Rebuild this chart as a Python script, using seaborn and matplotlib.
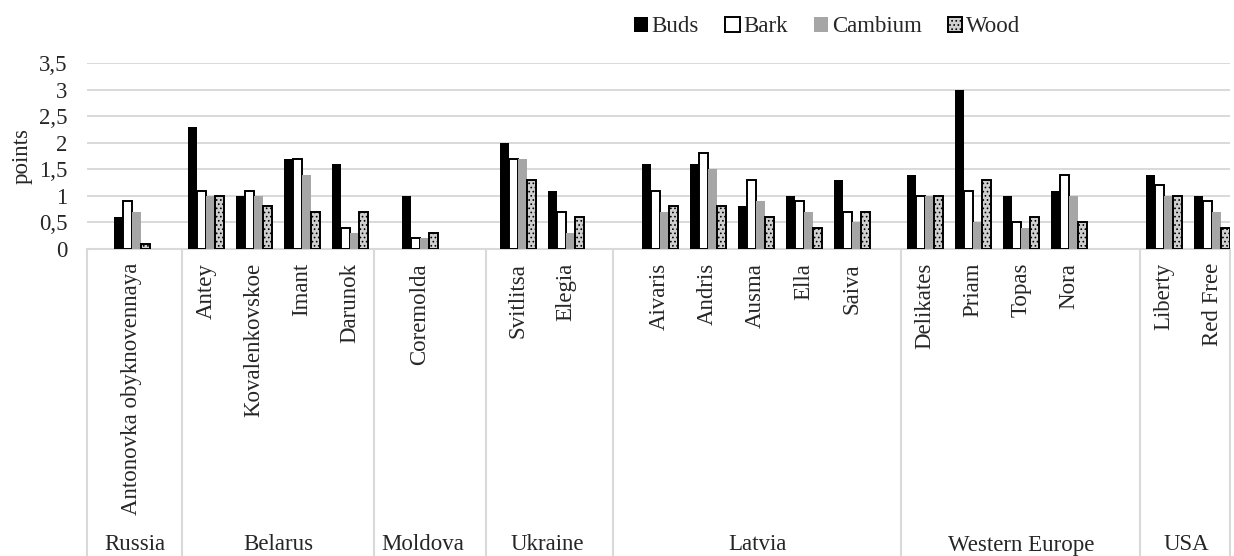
import matplotlib
matplotlib.use("Agg")
import matplotlib.pyplot as plt
import pandas as pd
import seaborn as sns
from matplotlib.patches import Patch
from matplotlib.transforms import blended_transform_factory

# ---- data -------------------------------------------------------------
varieties = ["Antonovka obyknovennaya",
             "Antey", "Kovalenkovskoe", "Imant", "Darunok",
             "Coremolda",
             "Svitlitsa", "Elegia",
             "Aivaris", "Andris", "Ausma", "Ella", "Saiva",
             "Delikates", "Priam", "Topas", "Nora",
             "Liberty", "Red Free"]
origin = ["Russia",
          "Belarus", "Belarus", "Belarus", "Belarus",
          "Moldova",
          "Ukraine", "Ukraine",
          "Latvia", "Latvia", "Latvia", "Latvia", "Latvia",
          "Western Europe", "Western Europe", "Western Europe", "Western Europe",
          "USA", "USA"]
buds    = [0.6, 2.3, 1.0, 1.7, 1.6, 1.0, 2.0, 1.1, 1.6, 1.6, 0.8, 1.0, 1.3, 1.4, 3.0, 1.0, 1.1, 1.4, 1.0]
bark    = [0.9, 1.1, 1.1, 1.7, 0.4, 0.2, 1.7, 0.7, 1.1, 1.8, 1.3, 0.9, 0.7, 1.0, 1.1, 0.5, 1.4, 1.2, 0.9]
cambium = [0.7, 1.0, 1.0, 1.4, 0.3, 0.2, 1.7, 0.3, 0.7, 1.5, 0.9, 0.7, 0.5, 1.0, 0.5, 0.4, 1.0, 1.0, 0.7]
wood    = [0.1, 1.0, 0.8, 0.7, 0.7, 0.3, 1.3, 0.6, 0.8, 0.8, 0.6, 0.4, 0.7, 1.0, 1.3, 0.6, 0.5, 1.0, 0.4]
parts = ["Buds", "Bark", "Cambium", "Wood"]
regions = ["Russia", "Belarus", "Moldova", "Ukraine", "Latvia", "Western Europe", "USA"]
y_ticks = [0, 0.5, 1, 1.5, 2, 2.5, 3, 3.5]
y_tick_labels = ["0", "0,5", "1", "1,5", "2", "2,5", "3", "3,5"]

# ---- layout (category slots on the x axis) ----------------------------
slot_x = [0.93,
          2.48, 3.48, 4.48, 5.48,
          6.93,
          8.97, 9.97,
          11.93, 12.93, 13.93, 14.93, 15.93,
          17.46, 18.46, 19.46, 20.46,
          22.44, 23.44]
region_edges = [0.0, 1.98, 5.98, 8.31, 10.96, 16.96, 21.94, 23.81]
region_label_x = [0.99, 3.98, 7.0, 9.58, 13.96, 19.45, 22.9]

records = []
for i, name in enumerate(varieties):
    for part, vals in zip(parts, [buds, bark, cambium, wood]):
        records.append({"variety": name, "x": slot_x[i], "part": part, "value": vals[i]})
df = pd.DataFrame(records)

# ---- style ------------------------------------------------------------
sns.set_style("white")
plt.rcParams["font.family"] = ["Liberation Serif", "DejaVu Serif"]
plt.rcParams["font.size"] = 16.5
plt.rcParams["hatch.linewidth"] = 0.7

W, H = 1234, 556
fig = plt.figure(figsize=(W / 100, H / 100), dpi=100)
ax = fig.add_axes([87 / W, (H - 249) / H, 1143 / W, 186 / H])

colors = {"Buds": "#000000", "Bark": "#ffffff", "Cambium": "#a6a6a6", "Wood": "#cfcfcf"}
sns.barplot(data=df, x="x", y="value", hue="part", hue_order=parts,
            native_scale=True, width=0.75, dodge=True, palette=colors,
            saturation=1, errorbar=None, legend=False, ax=ax, zorder=3)

styles = {
    "Buds":    dict(edgecolor="#000000", linewidth=0, hatch=None),
    "Bark":    dict(edgecolor="#000000", linewidth=1.4, hatch=None),
    "Cambium": dict(edgecolor="none", linewidth=0, hatch=None),
    "Wood":    dict(edgecolor="#000000", linewidth=1.4, hatch="...."),
}
for part, cont in zip(parts, ax.containers):
    for bar in cont:
        bar.set_edgecolor(styles[part]["edgecolor"])
        bar.set_linewidth(styles[part]["linewidth"])
        if styles[part]["hatch"]:
            bar.set_hatch(styles[part]["hatch"])

# ---- axes -------------------------------------------------------------
ax.set_xlim(region_edges[0], region_edges[-1])
ax.set_ylim(0, 3.5)
ax.set_yticks(y_ticks, y_tick_labels)
ax.set_xticks(slot_x, varieties, rotation=90)
ax.tick_params(axis="both", length=0)
ax.tick_params(axis="y", pad=14)
ax.tick_params(axis="x", pad=10)
ax.yaxis.grid(True, color="#d9d9d9", linewidth=1.4)
ax.xaxis.grid(False)
ax.set_axisbelow(True)
for side in ["top", "right", "left"]:
    ax.spines[side].set_visible(False)
ax.spines["bottom"].set_color("#d9d9d9")
ax.spines["bottom"].set_linewidth(1.5)
ax.set_xlabel("")
ax.set_ylabel("points", va="center")
ax.yaxis.set_label_coords((22 - 87) / 1143, 0.5)

# region dividers and names under the variety labels
trans_x_axes = blended_transform_factory(ax.transData, ax.transAxes)
trans_x_fig = blended_transform_factory(ax.transData, fig.transFigure)
drop = -(H - 249) / 186
for e in region_edges:
    ax.plot([e, e], [0, drop], color="#d9d9d9", linewidth=1.5,
            transform=trans_x_axes, clip_on=False)
for cx, name in zip(region_label_x, regions):
    ax.text(cx, 11 / H, name, transform=trans_x_fig, ha="center", va="center")

# legend
handles = [Patch(facecolor=colors[p], edgecolor=styles[p]["edgecolor"],
                 linewidth=styles[p]["linewidth"], hatch=styles[p]["hatch"], label=p)
           for p in parts]
fig.legend(handles=handles, loc="center left", bbox_to_anchor=(634 / W, (H - 27) / H),
           ncol=4, frameon=False, handlelength=0.62, handleheight=0.62,
           handletextpad=0.15, columnspacing=1.15, borderpad=0, borderaxespad=0)

fig.savefig("out.png", dpi=100)
